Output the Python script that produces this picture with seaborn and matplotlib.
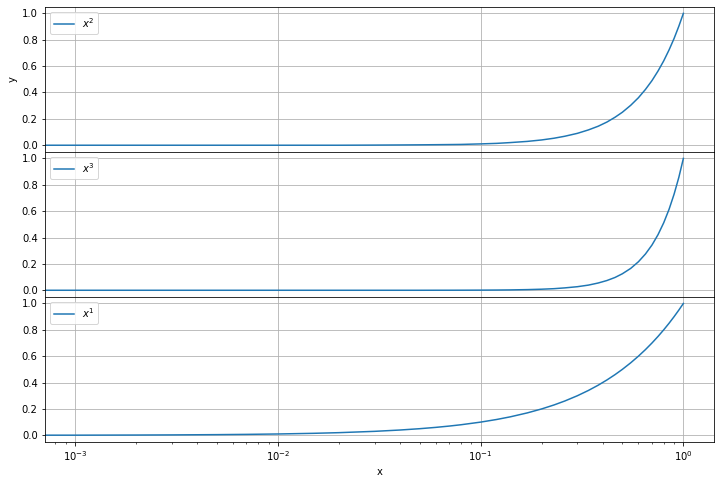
import matplotlib
matplotlib.use("Agg")
import matplotlib.pyplot as plt
import seaborn as sns

# sample points (the series starts at x = 0)
x_vals = [0.0, 0.001, 0.002, 0.003, 0.005, 0.007, 0.01, 0.015, 0.02, 0.03, 0.04,
          0.05, 0.06, 0.07, 0.08, 0.1, 0.12, 0.14, 0.17, 0.2, 0.23, 0.26,
          0.3, 0.34, 0.38, 0.42, 0.46, 0.5, 0.55, 0.6, 0.65, 0.7, 0.75,
          0.8, 0.85, 0.9, 0.95, 1.0]

y_sq = [0.0, 0.0, 0.0, 0.0, 0.0, 0.0, 0.0, 0.0, 0.0, 0.001, 0.002,
        0.003, 0.004, 0.005, 0.006, 0.01, 0.014, 0.02, 0.029, 0.04, 0.053, 0.068,
        0.09, 0.116, 0.144, 0.176, 0.212, 0.25, 0.303, 0.36, 0.423, 0.49, 0.563,
        0.64, 0.723, 0.81, 0.903, 1.0]

y_cube = [0.0, 0.0, 0.0, 0.0, 0.0, 0.0, 0.0, 0.0, 0.0, 0.0, 0.0,
          0.0, 0.0002, 0.0003, 0.0005, 0.001, 0.0017, 0.0027, 0.0049, 0.008, 0.012, 0.018,
          0.027, 0.039, 0.055, 0.074, 0.097, 0.125, 0.166, 0.216, 0.275, 0.343, 0.422,
          0.512, 0.614, 0.729, 0.857, 1.0]

y_lin = [0.0, 0.001, 0.002, 0.003, 0.005, 0.007, 0.01, 0.015, 0.02, 0.03, 0.04,
         0.05, 0.06, 0.07, 0.08, 0.1, 0.12, 0.14, 0.17, 0.2, 0.23, 0.26,
         0.3, 0.34, 0.38, 0.42, 0.46, 0.5, 0.55, 0.6, 0.65, 0.7, 0.75,
         0.8, 0.85, 0.9, 0.95, 1.0]

series = [("$x^2$", y_sq), ("$x^3$", y_cube), ("$x^1$", y_lin)]

fig, axes = plt.subplots(3, 1, sharex=True, figsize=(721 / 72, 484 / 72), dpi=72)
fig.subplots_adjust(left=0.062, right=0.99, top=0.986, bottom=0.087, hspace=0)

for ax, (label, ys) in zip(axes, series):
    sns.lineplot(x=x_vals, y=ys, ax=ax, label=label, color="#1f77b4")
    ax.set_xscale("log")
    ax.grid(True)
    ax.legend(loc="upper left")

axes[-1].set_xlim(10 ** -3.15, 10 ** 0.15)
axes[0].set_ylabel("y")
axes[-1].set_xlabel("x")

plt.savefig("out.png", dpi=72)
